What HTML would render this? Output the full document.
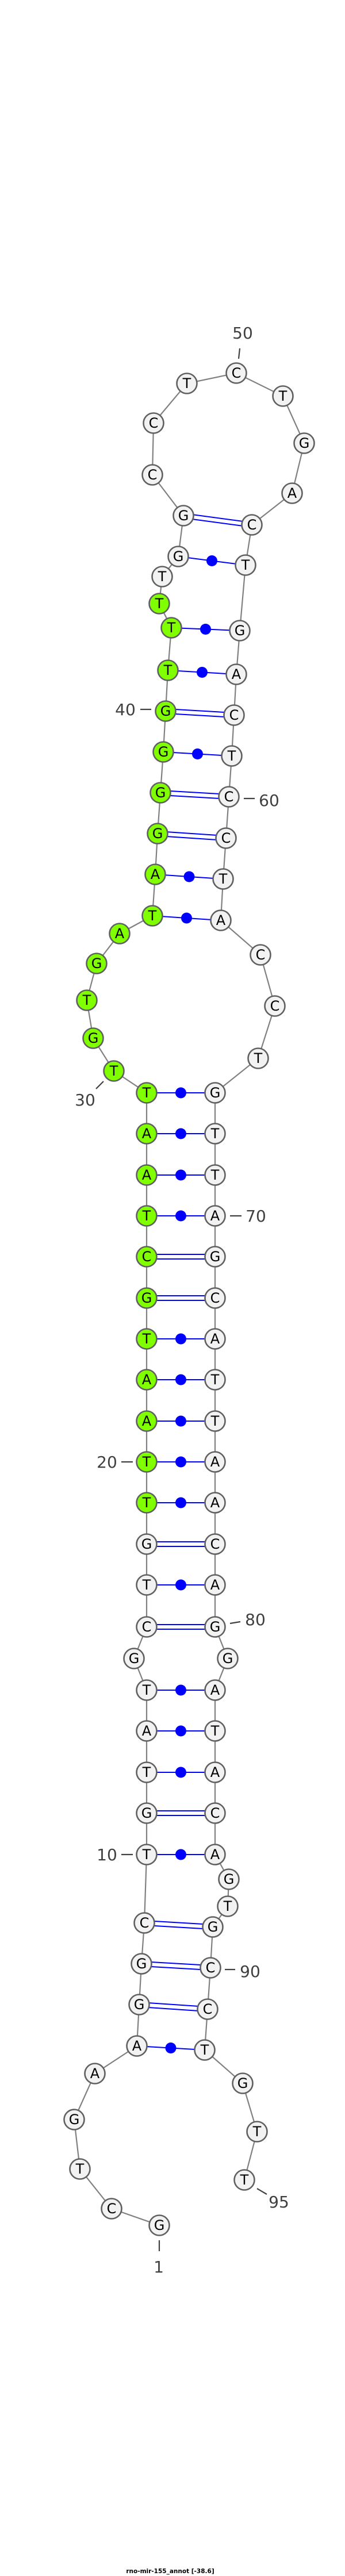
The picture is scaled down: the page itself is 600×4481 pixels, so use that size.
<!DOCTYPE html>
<html><head><meta charset="utf-8">
<style>
html,body{margin:0;padding:0;background:#fff;}
svg{display:block;}
.n{stroke:#606060;stroke-width:2.6;}
.w{fill:#f2f2f2;}
.g{fill:#80ff00;}
.t{font-family:"DejaVu Sans","Liberation Sans",sans-serif;font-size:24px;text-anchor:middle;fill:#000;}
.l{font-family:"DejaVu Sans","Liberation Sans",sans-serif;font-size:28px;text-anchor:middle;fill:#404040;}
.k{stroke:#404040;stroke-width:2.2;}
.p{stroke:#0000ff;stroke-width:2;}
</style></head><body>
<svg width="600" height="4481" viewBox="0 0 600 4481" xmlns="http://www.w3.org/2000/svg">
<rect width="600" height="4481" fill="#fff"/>
<!-- backbone -->
<polyline fill="none" stroke="#808080" stroke-width="2.2" points="277,3871 194,3842 139,3773 129,3687 165,3607 238,3559 242,3487 246,3416 251,3345 255,3226 255,3154 255,3083 255,3011 255,2940 233,2885 255,2830 255,2757 255,2686 255,2614 255,2543 255,2472 255,2400 255,2329 255,2258 255,2186 255,2115 255,2044 255,1972 255,1901 198,1863 162,1806 151,1740 168,1676 208,1624 265,1593 270,1521 274,1450 279,1379 284,1308 288,1237 292,1166 298,1092 277,1050 282,1003 310,968 319,897 265,826 267,736 325,667 411,649 492,689 529,771 508,858 438,913 427,983 417,1097 411,1173 407,1244 403,1315 398,1386 393,1458 388,1529 384,1601 453,1661 478,1750 449,1841 374,1901 374,1972 374,2044 374,2115 374,2186 374,2258 374,2329 374,2400 374,2472 374,2543 374,2614 374,2686 374,2757 374,2830 396,2885 374,2940 374,3011 374,3083 374,3154 374,3226 398,3269 396,3316 370,3352 366,3423 361,3495 356,3566 422,3624 447,3708 425,3792"/>
<!-- single pairs with dots -->
<g class="p" fill="none">
<line x1="238" y1="3559" x2="356" y2="3566"/>
<line x1="255" y1="3226" x2="374" y2="3226"/>
<line x1="255" y1="3083" x2="374" y2="3083"/>
<line x1="255" y1="3011" x2="374" y2="3011"/>
<line x1="255" y1="2940" x2="374" y2="2940"/>
<line x1="255" y1="2757" x2="374" y2="2757"/>
<line x1="255" y1="2614" x2="374" y2="2614"/>
<line x1="255" y1="2543" x2="374" y2="2543"/>
<line x1="255" y1="2472" x2="374" y2="2472"/>
<line x1="255" y1="2400" x2="374" y2="2400"/>
<line x1="255" y1="2329" x2="374" y2="2329"/>
<line x1="255" y1="2115" x2="374" y2="2115"/>
<line x1="255" y1="2044" x2="374" y2="2044"/>
<line x1="255" y1="1972" x2="374" y2="1972"/>
<line x1="255" y1="1901" x2="374" y2="1901"/>
<line x1="265" y1="1593" x2="384" y2="1601"/>
<line x1="270" y1="1521" x2="388" y2="1529"/>
<line x1="284" y1="1308" x2="403" y2="1315"/>
<line x1="292" y1="1166" x2="411" y2="1173"/>
<line x1="298" y1="1092" x2="417" y2="1097"/>
<line x1="310" y1="968" x2="427" y2="983"/>
</g>
<g fill="#0000ff">
<circle cx="297" cy="3562.5" r="9.5"/>
<circle cx="314.5" cy="3226" r="9.5"/>
<circle cx="314.5" cy="3083" r="9.5"/>
<circle cx="314.5" cy="3011" r="9.5"/>
<circle cx="314.5" cy="2940" r="9.5"/>
<circle cx="314.5" cy="2757" r="9.5"/>
<circle cx="314.5" cy="2614" r="9.5"/>
<circle cx="314.5" cy="2543" r="9.5"/>
<circle cx="314.5" cy="2472" r="9.5"/>
<circle cx="314.5" cy="2400" r="9.5"/>
<circle cx="314.5" cy="2329" r="9.5"/>
<circle cx="314.5" cy="2115" r="9.5"/>
<circle cx="314.5" cy="2044" r="9.5"/>
<circle cx="314.5" cy="1972" r="9.5"/>
<circle cx="314.5" cy="1901" r="9.5"/>
<circle cx="324.5" cy="1597" r="9.5"/>
<circle cx="329" cy="1525" r="9.5"/>
<circle cx="343.5" cy="1311.5" r="9.5"/>
<circle cx="351.5" cy="1169.5" r="9.5"/>
<circle cx="357.5" cy="1094.5" r="9.5"/>
<circle cx="368.5" cy="975.5" r="9.5"/>
</g>
<!-- double pairs -->
<g class="p" fill="none">
<line x1="242" y1="3483" x2="361" y2="3491"/><line x1="242" y1="3491" x2="361" y2="3499"/>
<line x1="246" y1="3412" x2="366" y2="3419"/><line x1="246" y1="3420" x2="366" y2="3427"/>
<line x1="251" y1="3341" x2="370" y2="3348"/><line x1="251" y1="3349" x2="370" y2="3356"/>
<line x1="255" y1="3150" x2="374" y2="3150"/><line x1="255" y1="3158" x2="374" y2="3158"/>
<line x1="255" y1="2826" x2="374" y2="2826"/><line x1="255" y1="2834" x2="374" y2="2834"/>
<line x1="255" y1="2682" x2="374" y2="2682"/><line x1="255" y1="2690" x2="374" y2="2690"/>
<line x1="255" y1="2254" x2="374" y2="2254"/><line x1="255" y1="2262" x2="374" y2="2262"/>
<line x1="255" y1="2182" x2="374" y2="2182"/><line x1="255" y1="2190" x2="374" y2="2190"/>
<line x1="274" y1="1446" x2="393" y2="1454"/><line x1="274" y1="1454" x2="393" y2="1462"/>
<line x1="279" y1="1375" x2="398" y2="1382"/><line x1="279" y1="1383" x2="398" y2="1390"/>
<line x1="288" y1="1233" x2="407" y2="1240"/><line x1="288" y1="1241" x2="407" y2="1248"/>
<line x1="319" y1="893" x2="438" y2="909"/><line x1="319" y1="901" x2="438" y2="917"/>
</g>
<!-- ticks and numbers -->
<g class="k">
<line x1="277" y1="3897" x2="277" y2="3916"/>
<line x1="211" y1="3226" x2="231" y2="3226"/>
<line x1="400" y1="2824" x2="418" y2="2821"/>
<line x1="211" y1="2543" x2="231" y2="2543"/>
<line x1="400" y1="2115" x2="420" y2="2115"/>
<line x1="167" y1="1894" x2="180" y2="1881"/>
<line x1="244" y1="1234" x2="263" y2="1234"/>
<line x1="424" y1="1389" x2="443" y2="1389"/>
<line x1="417" y1="606" x2="415" y2="624"/>
<line x1="391" y1="3426" x2="409" y2="3426"/>
<line x1="447" y1="3807" x2="464" y2="3817"/>
</g>
<g class="l">
<text x="276" y="3953">1</text>
<text x="186" y="3236">10</text>
<text x="444" y="2827">80</text>
<text x="186" y="2553">20</text>
<text x="445" y="2125">70</text>
<text x="148" y="1923">30</text>
<text x="218" y="1244">40</text>
<text x="468" y="1402">60</text>
<text x="422" y="589">50</text>
<text x="435" y="3439">90</text>
<text x="485" y="3840">95</text>
</g>
<!-- nucleotides -->
<g class="n">
<circle class="w" cx="277" cy="3871" r="17.5"/><circle class="w" cx="194" cy="3842" r="17.5"/><circle class="w" cx="139" cy="3773" r="17.5"/><circle class="w" cx="129" cy="3687" r="17.5"/><circle class="w" cx="165" cy="3607" r="17.5"/><circle class="w" cx="238" cy="3559" r="17.5"/><circle class="w" cx="242" cy="3487" r="17.5"/><circle class="w" cx="246" cy="3416" r="17.5"/><circle class="w" cx="251" cy="3345" r="17.5"/><circle class="w" cx="255" cy="3226" r="17.5"/><circle class="w" cx="255" cy="3154" r="17.5"/><circle class="w" cx="255" cy="3083" r="17.5"/><circle class="w" cx="255" cy="3011" r="17.5"/><circle class="w" cx="255" cy="2940" r="17.5"/><circle class="w" cx="233" cy="2885" r="17.5"/><circle class="w" cx="255" cy="2830" r="17.5"/><circle class="w" cx="255" cy="2757" r="17.5"/><circle class="w" cx="255" cy="2686" r="17.5"/>
<circle class="g" cx="255" cy="2614" r="17.5"/><circle class="g" cx="255" cy="2543" r="17.5"/><circle class="g" cx="255" cy="2472" r="17.5"/><circle class="g" cx="255" cy="2400" r="17.5"/><circle class="g" cx="255" cy="2329" r="17.5"/><circle class="g" cx="255" cy="2258" r="17.5"/><circle class="g" cx="255" cy="2186" r="17.5"/><circle class="g" cx="255" cy="2115" r="17.5"/><circle class="g" cx="255" cy="2044" r="17.5"/><circle class="g" cx="255" cy="1972" r="17.5"/><circle class="g" cx="255" cy="1901" r="17.5"/><circle class="g" cx="198" cy="1863" r="17.5"/><circle class="g" cx="162" cy="1806" r="17.5"/><circle class="g" cx="151" cy="1740" r="17.5"/><circle class="g" cx="168" cy="1676" r="17.5"/><circle class="g" cx="208" cy="1624" r="17.5"/><circle class="g" cx="265" cy="1593" r="17.5"/><circle class="g" cx="270" cy="1521" r="17.5"/><circle class="g" cx="274" cy="1450" r="17.5"/><circle class="g" cx="279" cy="1379" r="17.5"/><circle class="g" cx="284" cy="1308" r="17.5"/><circle class="g" cx="288" cy="1237" r="17.5"/><circle class="g" cx="292" cy="1166" r="17.5"/><circle class="g" cx="298" cy="1092" r="17.5"/><circle class="g" cx="277" cy="1050" r="17.5"/>
<circle class="w" cx="282" cy="1003" r="17.5"/><circle class="w" cx="310" cy="968" r="17.5"/><circle class="w" cx="319" cy="897" r="17.5"/><circle class="w" cx="265" cy="826" r="17.5"/><circle class="w" cx="267" cy="736" r="17.5"/><circle class="w" cx="325" cy="667" r="17.5"/><circle class="w" cx="411" cy="649" r="17.5"/><circle class="w" cx="492" cy="689" r="17.5"/><circle class="w" cx="529" cy="771" r="17.5"/><circle class="w" cx="508" cy="858" r="17.5"/><circle class="w" cx="438" cy="913" r="17.5"/><circle class="w" cx="427" cy="983" r="17.5"/><circle class="w" cx="417" cy="1097" r="17.5"/><circle class="w" cx="411" cy="1173" r="17.5"/><circle class="w" cx="407" cy="1244" r="17.5"/><circle class="w" cx="403" cy="1315" r="17.5"/><circle class="w" cx="398" cy="1386" r="17.5"/><circle class="w" cx="393" cy="1458" r="17.5"/><circle class="w" cx="388" cy="1529" r="17.5"/><circle class="w" cx="384" cy="1601" r="17.5"/><circle class="w" cx="453" cy="1661" r="17.5"/><circle class="w" cx="478" cy="1750" r="17.5"/><circle class="w" cx="449" cy="1841" r="17.5"/>
<circle class="w" cx="374" cy="1901" r="17.5"/><circle class="w" cx="374" cy="1972" r="17.5"/><circle class="w" cx="374" cy="2044" r="17.5"/><circle class="w" cx="374" cy="2115" r="17.5"/><circle class="w" cx="374" cy="2186" r="17.5"/><circle class="w" cx="374" cy="2258" r="17.5"/><circle class="w" cx="374" cy="2329" r="17.5"/><circle class="w" cx="374" cy="2400" r="17.5"/><circle class="w" cx="374" cy="2472" r="17.5"/><circle class="w" cx="374" cy="2543" r="17.5"/><circle class="w" cx="374" cy="2614" r="17.5"/><circle class="w" cx="374" cy="2686" r="17.5"/><circle class="w" cx="374" cy="2757" r="17.5"/><circle class="w" cx="374" cy="2830" r="17.5"/><circle class="w" cx="396" cy="2885" r="17.5"/><circle class="w" cx="374" cy="2940" r="17.5"/><circle class="w" cx="374" cy="3011" r="17.5"/><circle class="w" cx="374" cy="3083" r="17.5"/><circle class="w" cx="374" cy="3154" r="17.5"/><circle class="w" cx="374" cy="3226" r="17.5"/><circle class="w" cx="398" cy="3269" r="17.5"/><circle class="w" cx="396" cy="3316" r="17.5"/><circle class="w" cx="370" cy="3352" r="17.5"/><circle class="w" cx="366" cy="3423" r="17.5"/><circle class="w" cx="361" cy="3495" r="17.5"/><circle class="w" cx="356" cy="3566" r="17.5"/><circle class="w" cx="422" cy="3624" r="17.5"/><circle class="w" cx="447" cy="3708" r="17.5"/><circle class="w" cx="425" cy="3792" r="17.5"/>
</g>
<g class="t">
<text x="277" y="3879">G</text><text x="194" y="3850">C</text><text x="139" y="3781">T</text><text x="129" y="3695">G</text><text x="165" y="3615">A</text><text x="238" y="3567">A</text><text x="242" y="3495">G</text><text x="246" y="3424">G</text><text x="251" y="3353">C</text><text x="255" y="3234">T</text><text x="255" y="3162">G</text><text x="255" y="3091">T</text><text x="255" y="3019">A</text><text x="255" y="2948">T</text><text x="233" y="2893">G</text><text x="255" y="2838">C</text><text x="255" y="2765">T</text><text x="255" y="2694">G</text>
<text x="255" y="2622">T</text><text x="255" y="2551">T</text><text x="255" y="2480">A</text><text x="255" y="2408">A</text><text x="255" y="2337">T</text><text x="255" y="2266">G</text><text x="255" y="2194">C</text><text x="255" y="2123">T</text><text x="255" y="2052">A</text><text x="255" y="1980">A</text><text x="255" y="1909">T</text><text x="198" y="1871">T</text><text x="162" y="1814">G</text><text x="151" y="1748">T</text><text x="168" y="1684">G</text><text x="208" y="1632">A</text><text x="265" y="1601">T</text><text x="270" y="1529">A</text><text x="274" y="1458">G</text><text x="279" y="1387">G</text><text x="284" y="1316">G</text><text x="288" y="1245">G</text><text x="292" y="1174">T</text><text x="298" y="1100">T</text><text x="277" y="1058">T</text>
<text x="282" y="1011">T</text><text x="310" y="976">G</text><text x="319" y="905">G</text><text x="265" y="834">C</text><text x="267" y="744">C</text><text x="325" y="675">T</text><text x="411" y="657">C</text><text x="492" y="697">T</text><text x="529" y="779">G</text><text x="508" y="866">A</text><text x="438" y="921">C</text><text x="427" y="991">T</text><text x="417" y="1105">G</text><text x="411" y="1181">A</text><text x="407" y="1252">C</text><text x="403" y="1323">T</text><text x="398" y="1394">C</text><text x="393" y="1466">C</text><text x="388" y="1537">T</text><text x="384" y="1609">A</text><text x="453" y="1669">C</text><text x="478" y="1758">C</text><text x="449" y="1849">T</text>
<text x="374" y="1909">G</text><text x="374" y="1980">T</text><text x="374" y="2052">T</text><text x="374" y="2123">A</text><text x="374" y="2194">G</text><text x="374" y="2266">C</text><text x="374" y="2337">A</text><text x="374" y="2408">T</text><text x="374" y="2480">T</text><text x="374" y="2551">A</text><text x="374" y="2622">A</text><text x="374" y="2694">C</text><text x="374" y="2765">A</text><text x="374" y="2838">G</text><text x="396" y="2893">G</text><text x="374" y="2948">A</text><text x="374" y="3019">T</text><text x="374" y="3091">A</text><text x="374" y="3162">C</text><text x="374" y="3234">A</text><text x="398" y="3277">G</text><text x="396" y="3324">T</text><text x="370" y="3360">G</text><text x="366" y="3431">C</text><text x="361" y="3503">C</text><text x="356" y="3574">T</text><text x="422" y="3632">G</text><text x="447" y="3716">T</text><text x="425" y="3800">T</text>
</g>
<text x="296" y="4476" font-family="'DejaVu Sans','Liberation Sans',sans-serif" font-size="10.5" font-weight="bold" text-anchor="middle" fill="#000">rno-mir-155_annot [-38.6]</text>
</svg>
</body></html>
